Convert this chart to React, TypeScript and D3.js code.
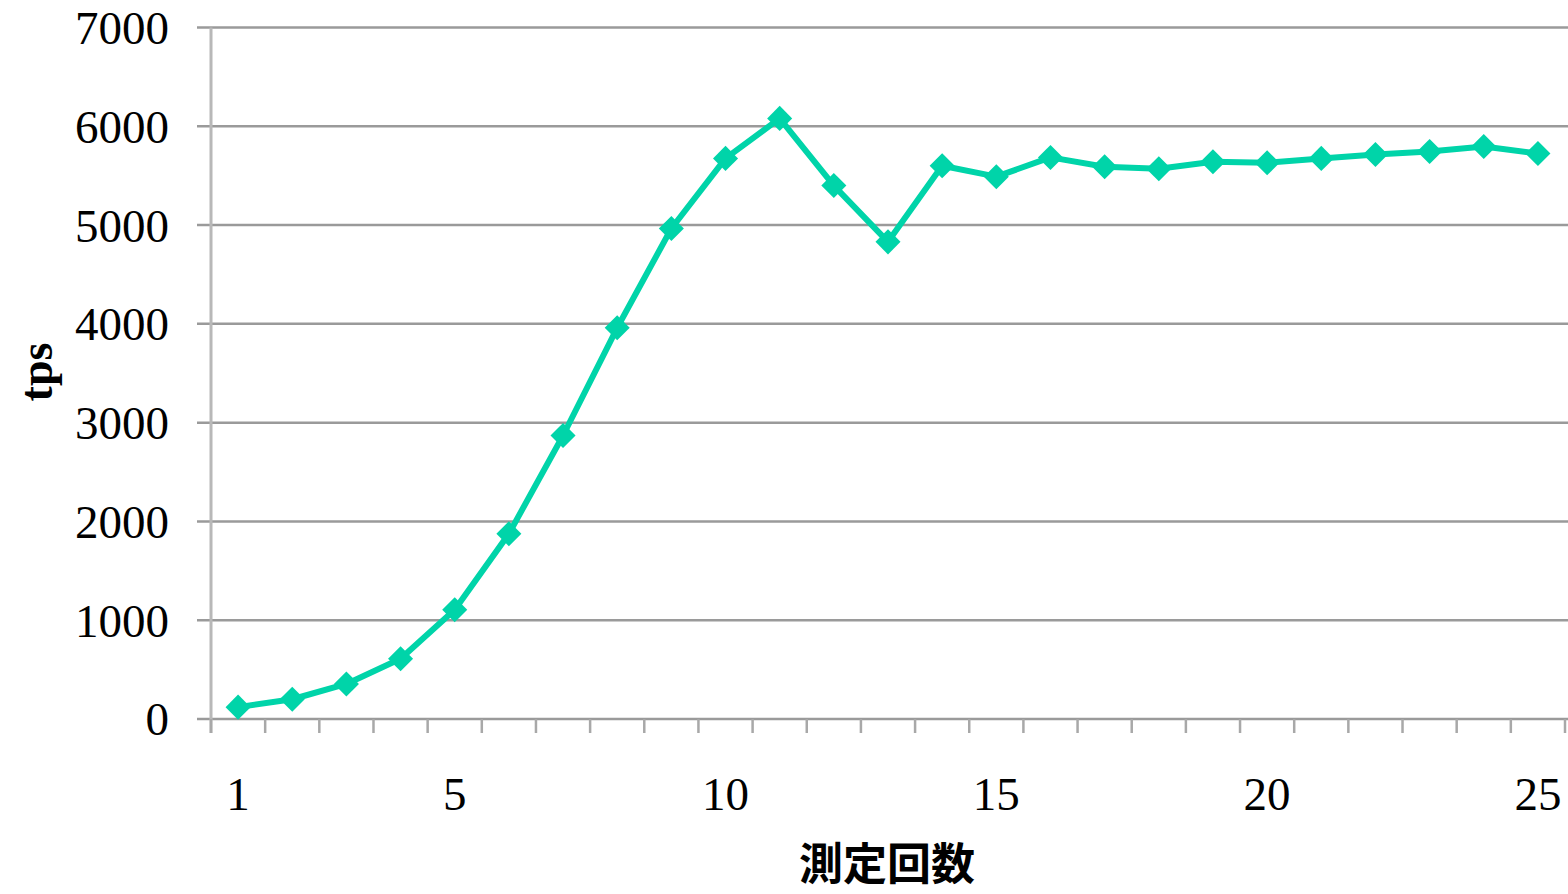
import React from "react";
import * as d3 from "d3";

const categories: number[] = d3.range(1, 26);
const tpsValues: number[] = [
  120, 200, 355, 610, 1105, 1875, 2870, 3960, 4965, 5675,
  6080, 5400, 4830, 5600, 5490, 5685, 5590, 5570, 5640, 5630,
  5675, 5715, 5745, 5795, 5725,
];
const yTicks: number[] = [0, 1000, 2000, 3000, 4000, 5000, 6000, 7000];
const xLabelTicks: number[] = [1, 5, 10, 15, 20, 25];
const xTitle = "測定回数";
const yTitle = "tps";

const W = 1568;
const H = 894;
const left = 211;
const right = 1565;
const top = 27.5;
const bottom = 719;

export default function App() {
  const x = d3.scaleBand<number>().domain(categories).range([left, right]).padding(0);
  const cx = (c: number) => (x(c) as number) + x.bandwidth() / 2;
  const y = d3.scaleLinear().domain([0, 7000]).range([bottom, top]);
  const line = d3
    .line<number>()
    .x((_, i) => cx(categories[i]))
    .y((d) => y(d));
  const diamond = d3.symbol().type(d3.symbolDiamond2).size(400)() as string;
  const color = "#00d4a9";
  const boundaries = [...categories.map((c) => x(c) as number), right];

  return (
    <svg
      width={W}
      height={H}
      style={{ position: "absolute", left: 0, top: 0, display: "block", background: "#fff" }}
    >
      {yTicks.map((t) => (
        <line key={t} x1={197} x2={W} y1={y(t)} y2={y(t)} stroke="#9a9a9a" strokeWidth={2.5} />
      ))}
      <line x1={left} x2={left} y1={top} y2={bottom + 14} stroke="#b8b8b8" strokeWidth={3} />
      {boundaries.map((b, i) => (
        <line key={i} x1={b} x2={b} y1={bottom} y2={bottom + 14} stroke="#a8a8a8" strokeWidth={2.5} />
      ))}
      {yTicks.map((t) => (
        <text
          key={t}
          x={169}
          y={y(t)}
          dy="0.35em"
          textAnchor="end"
          fontFamily="'Liberation Serif', 'Times New Roman', serif"
          fontSize={47}
          fill="#000"
        >
          {t}
        </text>
      ))}
      {xLabelTicks.map((c) => (
        <text
          key={c}
          x={cx(c)}
          y={794}
          dy="0.35em"
          textAnchor="middle"
          fontFamily="'Liberation Serif', 'Times New Roman', serif"
          fontSize={47}
          fill="#000"
        >
          {c}
        </text>
      ))}
      <path d={line(tpsValues) as string} fill="none" stroke={color} strokeWidth={6} strokeLinejoin="round" />
      {tpsValues.map((v, i) => (
        <path key={i} d={diamond} transform={`translate(${cx(categories[i])},${y(v)})`} fill={color} />
      ))}
      <text
        x={887}
        y={865}
        dy="0.35em"
        textAnchor="middle"
        fontFamily="'Noto Sans CJK JP', sans-serif"
        fontWeight="bold"
        fontSize={44}
        fill="#000"
      >
        {xTitle}
      </text>
      <text
        transform="translate(36,372) rotate(-90)"
        dy="0.35em"
        textAnchor="middle"
        fontFamily="'Liberation Serif', 'Times New Roman', serif"
        fontWeight="bold"
        fontSize={46}
        fill="#000"
      >
        {yTitle}
      </text>
    </svg>
  );
}
